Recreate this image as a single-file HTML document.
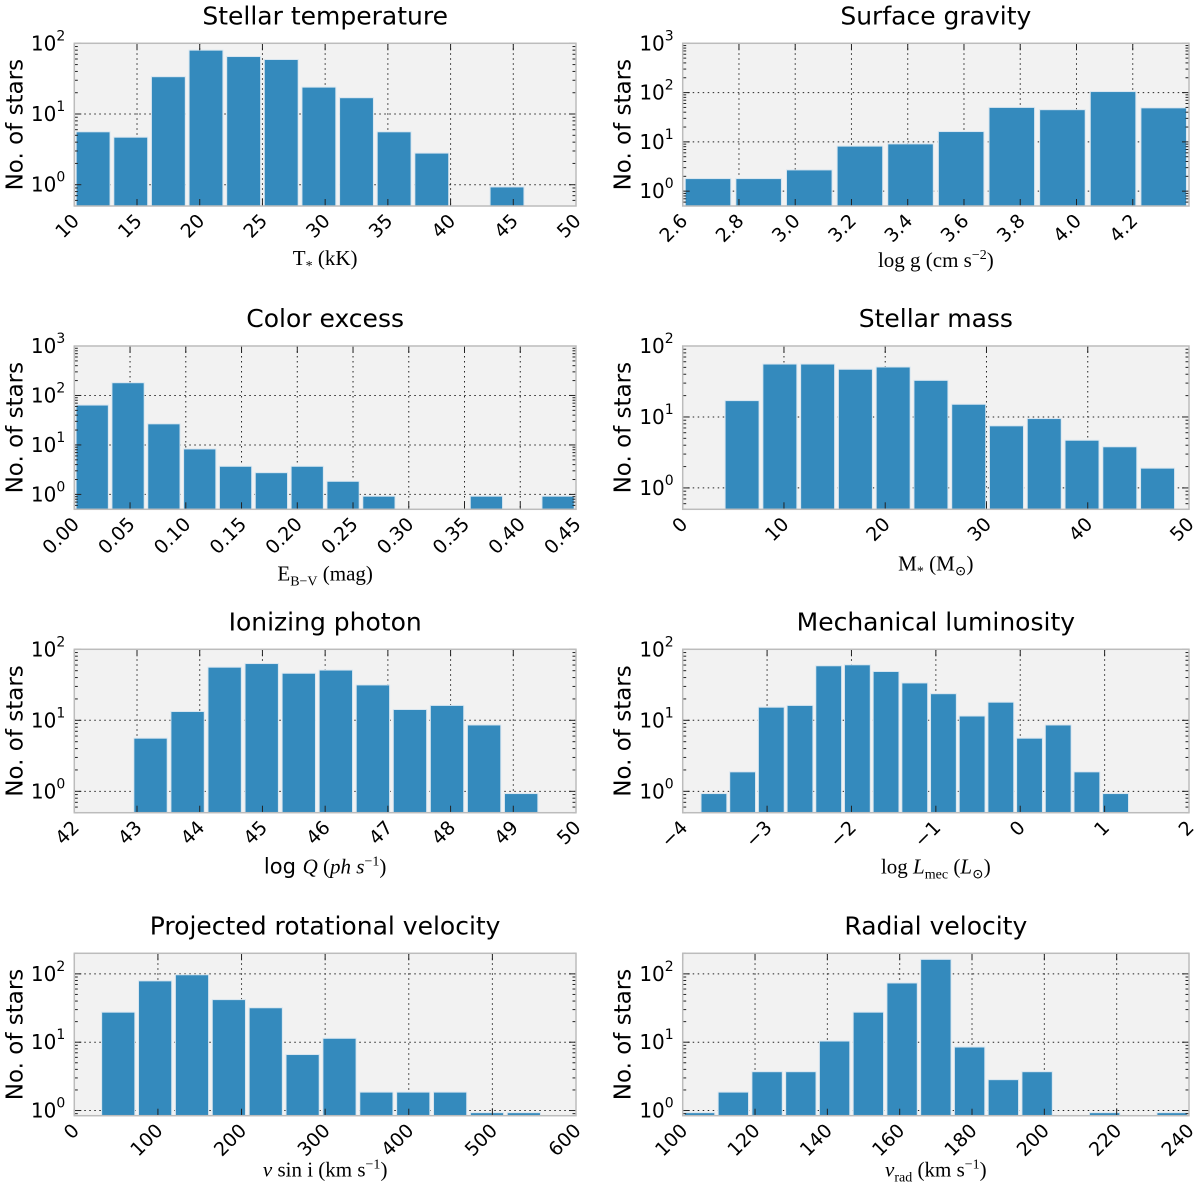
<!DOCTYPE html>
<html><head><meta charset="utf-8"><title>Stellar parameter histograms</title>
<style>
html,body{margin:0;padding:0;background:#fff;}
svg{display:block;}
text{font-family:"DejaVu Sans","Liberation Sans",sans-serif;fill:#000;}
.serif{font-family:"Liberation Serif","DejaVu Serif",serif;}
</style></head>
<body>
<svg id="fig" width="1200" height="1196" viewBox="0 0 1200 1196" xmlns="http://www.w3.org/2000/svg"></svg>
<script>
// ---- data (bin edges start, bin width, counts) ----
const tempBinStart = 10, tempBinWidth = 3;
const tempCounts = [5.6, 4.7, 33.7, 80, 65, 59, 24, 17, 5.6, 2.8, 0, 0.93];
const tempTicks = [10, 15, 20, 25, 30, 35, 40, 45, 50];

const loggBinStart = 2.6, loggBinWidth = 0.18;
const loggCounts = [1.8, 1.8, 2.7, 8.2, 9.1, 16.2, 50, 45, 105, 49];
const loggTicks = ["2.6", "2.8", "3.0", "3.2", "3.4", "3.6", "3.8", "4.0", "4.2"];

const ebvBinStart = 0, ebvBinWidth = 0.45 / 14;
const ebvCounts = [64, 181, 26.7, 8.3, 3.7, 2.75, 3.7, 1.84, 0.92, 0, 0, 0.92, 0, 0.92];
const ebvTicks = ["0.00", "0.05", "0.10", "0.15", "0.20", "0.25", "0.30", "0.35", "0.40", "0.45"];

const massBinStart = 4.0, massBinWidth = 3.73;
const massCounts = [17, 55.7, 55.7, 47, 50.6, 32.8, 15.1, 7.5, 9.5, 4.7, 3.8, 1.9];
const massTicks = [0, 10, 20, 30, 40, 50];

const qBinStart = 42.92, qBinWidth = 0.591;
const qCounts = [5.6, 13.3, 56, 63, 46, 51, 31.5, 14.2, 16.2, 8.6, 0.93];
const qTicks = [42, 43, 44, 45, 46, 47, 48, 49, 50];

const lmecBinStart = -3.8, lmecBinWidth = 0.34;
const lmecCounts = [0.93, 1.88, 15.3, 16.2, 58.6, 60.5, 48.7, 33.6, 23.7, 11.5, 18, 5.6, 8.6, 1.88, 0.93];
const lmecTicks = [-4, -3, -2, -1, 0, 1, 2];

const vsiniBinStart = 30.5, vsiniBinWidth = 44.1;
const vsiniCounts = [27.5, 79, 97, 42, 31.9, 6.6, 11.4, 1.86, 1.86, 1.86, 0.93, 0.93];
const vsiniTicks = [0, 100, 200, 300, 400, 500, 600];

const vradBinStart = 100, vradBinWidth = 140 / 15;
const vradCounts = [0.93, 1.86, 3.7, 3.7, 10.4, 27.5, 73.6, 163, 8.5, 2.83, 3.7, 0, 0.93, 0, 0.93];
const vradTicks = [100, 120, 140, 160, 180, 200, 220, 240];

// ---- drawing ----
const NS = "http://www.w3.org/2000/svg";
const svg = document.getElementById("fig");
function mk(tag, attrs, parent) {
  const e = document.createElementNS(NS, tag);
  for (const k in attrs) e.setAttribute(k, attrs[k]);
  (parent || svg).appendChild(e);
  return e;
}

function panel(p) {
  const g = mk("g", {});
  
  
  const L = p.x0, R = p.x1, T = p.y0, B = p.y1;
  const lx0 = Math.log10(p.ymin), lx1 = Math.log10(p.ymax);
  const xs = v => L + (v - p.xmin) / (p.xmax - p.xmin) * (R - L);
  const ys = v => B - (Math.log10(v) - lx0) / (lx1 - lx0) * (B - T);
  const cx = (L + R) / 2;

  const bg = mk("rect", {x: L, y: T, width: R - L, height: B - T, fill: "#f2f2f2"}, g);
  
  

  const grid = mk("g", {stroke: "#000", "stroke-width": 1, "stroke-dasharray": "1.5,3.5", opacity: 0.85}, g);
  
  
  p.ticks.forEach(t => {
    const x = xs(+t);
    if (x > L + 1 && x < R - 1) mk("line", {x1: x, x2: x, y1: T, y2: B}, grid);
  });
  for (let d = Math.ceil(lx0); d <= Math.floor(lx1); d++) {
    const y = ys(Math.pow(10, d));
    if (y > T + 1 && y < B - 1) mk("line", {x1: L, x2: R, y1: y, y2: y}, grid);
  }

  const bars = mk("g", {}, g);
  
  
  p.counts.forEach((c, i) => {
    if (c <= 0) return;
    const e0 = p.binStart + i * p.binWidth;
    const mid = e0 + p.binWidth / 2;
    const hw = p.binWidth * 0.9 / 2;
    const xa = Math.max(xs(mid - hw), L), xb = Math.min(xs(mid + hw), R);
    const yt = Math.max(ys(c), T);
    const r = mk("rect", {x: xa, y: yt, width: xb - xa, height: B - yt, fill: "#348abd", stroke: "#d8e6f0", "stroke-width": 1}, bars);
    
    
  });

  const tk = mk("g", {stroke: "#222", "stroke-width": 1}, g);
  
  
  p.ticks.forEach(t => {
    const x = xs(+t);
    mk("line", {x1: x, x2: x, y1: B, y2: B - 7}, tk);
    mk("line", {x1: x, x2: x, y1: T, y2: T + 7}, tk);
  });
  for (let d = Math.floor(lx0); d <= Math.ceil(lx1); d++) {
    for (let m = 1; m <= 9; m++) {
      const v = m * Math.pow(10, d);
      if (v < p.ymin || v > p.ymax) continue;
      const y = ys(v), len = m === 1 ? 7 : 3.5;
      mk("line", {x1: L, x2: L + len, y1: y, y2: y}, tk);
      mk("line", {x1: R, x2: R - len, y1: y, y2: y}, tk);
    }
  }

  const sp = mk("rect", {x: L, y: T, width: R - L, height: B - T, fill: "none", stroke: "#bcbcbc", "stroke-width": 1.5}, g);
  
  

  p.ticks.forEach(t => {
    const x = xs(+t);
    const s = String(t).replace("-", "\u2212");
    const ax = x + 6, ay = B + 16;
    const tx = mk("text", {x: ax, y: ay, "font-size": 19, "text-anchor": "end",
      transform: `rotate(-45 ${ax} ${ay})`}, g);
    tx.textContent = s;
    
    
  });
  for (let d = Math.ceil(lx0); d <= Math.floor(lx1); d++) {
    const y = ys(Math.pow(10, d));
    const tx = mk("text", {x: L - 9, y: y + 7, "font-size": 20, "text-anchor": "end"}, g);
    const a = mk("tspan", {}, tx); a.textContent = "10";
    const b = mk("tspan", {dy: -10, "font-size": 14}, tx); b.textContent = String(d);
    
    
  }
  const yl = mk("text", {x: L - 52, y: (T + B) / 2, "font-size": 23, "text-anchor": "middle",
    transform: `rotate(-90 ${L - 52} ${(T + B) / 2})`}, g);
  yl.textContent = "No. of stars";
  
  
  const ti = mk("text", {x: cx, y: T - 19, "font-size": 25, "text-anchor": "middle"}, g);
  ti.textContent = p.title;
  
  
  const xl = mk("text", {x: cx, y: B + (p.xlOff || 61), "font-size": 21, "text-anchor": "middle", class: "serif"}, g);
  xl.innerHTML = p.xlabel;
  
  
}

const LX0 = 74.3, LX1 = 576, RX0 = 682.7, RX1 = 1189;
const rows = [[43.3, 206], [346, 509.3], [649.3, 812.7], [953.3, 1115.7]];

panel({name: "temperature", title: "Stellar temperature", x0: LX0, x1: LX1, y0: rows[0][0], y1: rows[0][1],
  xmin: 10, xmax: 50, ymin: 0.5, ymax: 100, ticks: tempTicks, binStart: tempBinStart, binWidth: tempBinWidth, counts: tempCounts,
  xlOff: 59,
  xlabel: 'T<tspan dy="5" font-size="14">*</tspan><tspan dy="-5"> (kK)</tspan>'});
panel({name: "gravity", title: "Surface gravity", x0: RX0, x1: RX1, y0: rows[0][0], y1: rows[0][1],
  xmin: 2.6, xmax: 4.4, ymin: 0.5, ymax: 1000, ticks: loggTicks, binStart: loggBinStart, binWidth: loggBinWidth, counts: loggCounts,
  xlOff: 61,
  xlabel: 'log g (cm s<tspan dy="-8" font-size="14">\u22122</tspan><tspan dy="8">)</tspan>'});
panel({name: "color-excess", title: "Color excess", x0: LX0, x1: LX1, y0: rows[1][0], y1: rows[1][1],
  xmin: 0, xmax: 0.45, ymin: 0.5, ymax: 1000, ticks: ebvTicks, binStart: ebvBinStart, binWidth: ebvBinWidth, counts: ebvCounts,
  xlOff: 71,
  xlabel: 'E<tspan dy="5" font-size="14">B\u2212V</tspan><tspan dy="-5"> (mag)</tspan>'});
panel({name: "mass", title: "Stellar mass", x0: RX0, x1: RX1, y0: rows[1][0], y1: rows[1][1],
  xmin: 0, xmax: 50, ymin: 0.5, ymax: 100, ticks: massTicks, binStart: massBinStart, binWidth: massBinWidth, counts: massCounts,
  xlabel: 'M<tspan dy="5" font-size="14">*</tspan><tspan dy="-5"> (M</tspan><tspan dy="5" font-size="14">\u2299</tspan><tspan dy="-5">)</tspan>'});
panel({name: "ionizing", title: "Ionizing photon", x0: LX0, x1: LX1, y0: rows[2][0], y1: rows[2][1],
  xmin: 42, xmax: 50, ymin: 0.5, ymax: 100, ticks: qTicks, binStart: qBinStart, binWidth: qBinWidth, counts: qCounts,
  xlabel: '<tspan font-family="DejaVu Sans">log </tspan><tspan font-style="italic">Q</tspan> (<tspan font-style="italic">ph s</tspan><tspan dy="-8" font-size="14">\u22121</tspan><tspan dy="8">)</tspan>'});
panel({name: "mechanical", title: "Mechanical luminosity", x0: RX0, x1: RX1, y0: rows[2][0], y1: rows[2][1],
  xmin: -4, xmax: 2, ymin: 0.5, ymax: 100, ticks: lmecTicks, binStart: lmecBinStart, binWidth: lmecBinWidth, counts: lmecCounts,
  xlabel: 'log <tspan font-style="italic">L</tspan><tspan dy="5" font-size="14">mec</tspan><tspan dy="-5"> (</tspan><tspan font-style="italic">L</tspan><tspan dy="5" font-size="14">\u2299</tspan><tspan dy="-5">)</tspan>'});
panel({name: "vsini", title: "Projected rotational velocity", x0: LX0, x1: LX1, y0: rows[3][0], y1: rows[3][1],
  xmin: 0, xmax: 600, ymin: 0.84, ymax: 200, ticks: vsiniTicks, binStart: vsiniBinStart, binWidth: vsiniBinWidth, counts: vsiniCounts,
  xlabel: '<tspan font-style="italic">v</tspan> sin i (km s<tspan dy="-8" font-size="14">\u22121</tspan><tspan dy="8">)</tspan>'});
panel({name: "radial-velocity", title: "Radial velocity", x0: RX0, x1: RX1, y0: rows[3][0], y1: rows[3][1],
  xmin: 100, xmax: 240, ymin: 0.84, ymax: 200, ticks: vradTicks, binStart: vradBinStart, binWidth: vradBinWidth, counts: vradCounts,
  xlabel: '<tspan font-style="italic">v</tspan><tspan dy="5" font-size="14">rad</tspan><tspan dy="-5"> (km s</tspan><tspan dy="-8" font-size="14">\u22121</tspan><tspan dy="8">)</tspan>'});
</script>
</body></html>
